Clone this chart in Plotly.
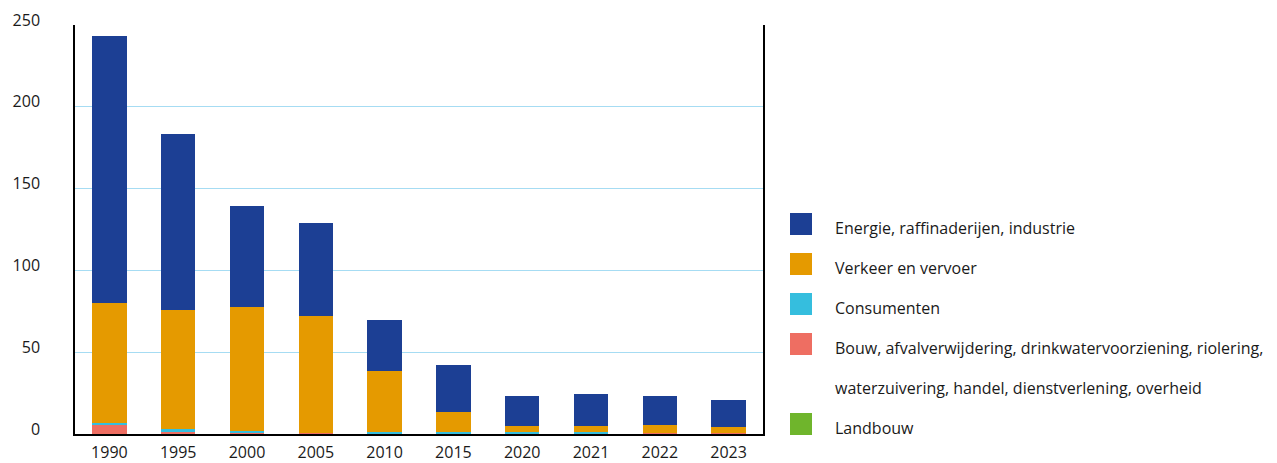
import plotly.graph_objects as go

years = ["1990", "1995", "2000", "2005", "2010", "2015", "2020", "2021", "2022", "2023"]

landbouw = [0, 0, 0, 0, 0, 0, 0, 0, 0, 0]
bouw = [6.0, 1.4, 1.0, 0.4, 0.4, 0.4, 0.4, 0.4, 0.5, 0.5]
consumenten = [0.5, 1.5, 0.8, 0.0, 1.0, 1.0, 1.0, 1.0, 0.0, 0.0]
verkeer = [73.5, 72.9, 75.8, 71.7, 37.1, 12.2, 3.7, 3.7, 5.2, 3.8]
energie = [163.3, 107.6, 61.8, 56.9, 31.2, 28.6, 18.1, 19.3, 17.5, 16.5]

series_names = [
    "Landbouw",
    "Bouw, afvalverwijdering, drinkwatervoorziening, riolering,<br>waterzuivering, handel, dienstverlening, overheid",
    "Consumenten",
    "Verkeer en vervoer",
    "Energie, raffinaderijen, industrie",
]
series_values = [landbouw, bouw, consumenten, verkeer, energie]
series_colors = ["#6FB52C", "#EE6E62", "#35BEDE", "#E59A00", "#1C3F94"]

y_ticks = [0, 50, 100, 150, 200, 250]

FONT = "Open Sans"
FS = 16
TXT = "#1a1a1a"
fig = go.Figure()
for name, vals, col in zip(series_names, series_values, series_colors):
    fig.add_trace(go.Bar(x=years, y=vals, name=name, marker=dict(color=col, line=dict(width=0)),
                         showlegend=False))

# page offset from default body margin
OFF = 8
W, H = 1277 - OFF, 463 - OFF
# plot area in page pixels
L, R, T, B = 75, 763, 25, 434

def px_x(px):
    return (px - L) / (R - L)

def px_y(py):
    return (B - py) / (B - T)

shapes = []
annotations = []
# custom legend (top to bottom: reverse of stack order)
legend_rows = [224, 264, 304, 344, 424]
for (name, col), yc in zip(list(zip(series_names, series_colors))[::-1], legend_rows):
    shapes.append(dict(type="rect", xref="paper", yref="paper",
                       x0=px_x(790), x1=px_x(812), y0=px_y(yc + 11), y1=px_y(yc - 11),
                       fillcolor=col, line=dict(width=0)))
    lines = name.split("<br>")
    for i, ln in enumerate(lines):
        annotations.append(dict(xref="paper", yref="paper", x=px_x(833), y=px_y(yc + 4 + 40 * i),
                                text=ln, showarrow=False, xanchor="left", yanchor="middle",
                                font=dict(family=FONT, size=FS, color=TXT)))

fig.update_layout(
    barmode="stack",
    bargap=0.5,
    width=W, height=H,
    margin=dict(l=L - OFF, r=1277 - R, t=T - OFF, b=463 - B, pad=0),
    paper_bgcolor="white",
    plot_bgcolor="white",
    font=dict(family=FONT, size=FS, color=TXT),
    shapes=shapes,
    annotations=annotations,
    xaxis=dict(showline=True, linecolor="black", linewidth=1.5, ticks="", showgrid=False,
               automargin=False, ticklabelstandoff=3, tickfont=dict(size=FS)),
    yaxis=dict(range=[0, 250], tickvals=y_ticks, showgrid=True, gridcolor="#A6DCF3", gridwidth=1,
               showline=True, linecolor="black", linewidth=1.5, mirror=True, ticks="",
               automargin=False, zeroline=False, ticklabelstandoff=30, ticklabelshift=-5,
               tickfont=dict(size=FS)),
)

fig.write_html("out.html")
